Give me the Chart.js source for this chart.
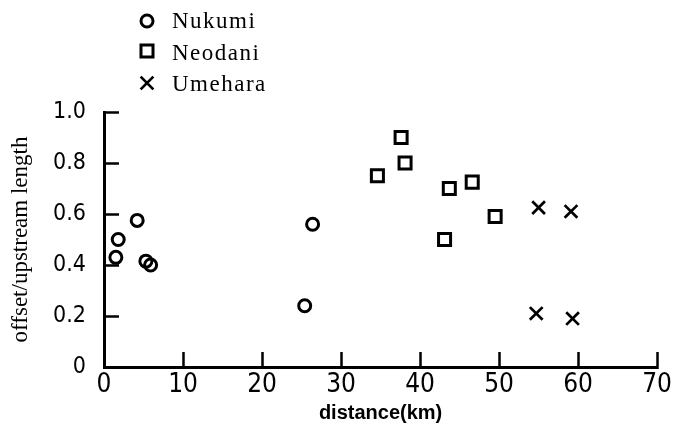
<!DOCTYPE html>
<html><head><meta charset="utf-8">
<script src="https://cdn.jsdelivr.net/npm/chart.js@4/dist/chart.umd.min.js"></script>
<style>html,body{margin:0;padding:0;background:#fff}#wrap{width:690px;height:430px;position:relative}</style>
</head><body><div id="wrap"><canvas id="c"></canvas></div>
<script>
const seriesNames = ['Nukumi', 'Neodani', 'Umehara'];
const nukumiX = [1.5, 1.8, 4.2, 5.3, 5.9, 25.4, 26.4];
const nukumiY = [0.43, 0.50, 0.575, 0.415, 0.40, 0.24, 0.56];
const neodaniX = [34.6, 37.6, 38.1, 43.1, 43.7, 46.6, 49.5];
const neodaniY = [0.75, 0.90, 0.80, 0.50, 0.70, 0.725, 0.59];
const umeharaX = [54.7, 55.0, 59.1, 59.3];
const umeharaY = [0.21, 0.625, 0.61, 0.19];
const xTicks = [0, 10, 20, 30, 40, 50, 60, 70];
const xTickLabels = ['0', '10', '20', '30', '40', '50', '60', '70'];
const yTicks = [0, 0.2, 0.4, 0.6, 0.8, 1.0];
const yTickLabels = ['0', '0.2', '0.4', '0.6', '0.8', '1.0'];
const xTitle = 'distance(km)';
const yTitle = 'offset/upstream length';

const narrow = "'Liberation Sans Narrow', 'DejaVu Sans Condensed', 'Roboto Condensed', 'Liberation Sans', sans-serif";
const serif = "'Liberation Serif', 'DejaVu Serif', serif";

function pts(xs, ys) { return xs.map((x, i) => ({ x: x, y: ys[i] })); }
function lookup(ticks, labels, v) {
  const i = ticks.findIndex(t => Math.abs(t - v) < 1e-6);
  return i >= 0 ? labels[i] : '';
}

const legendPlugin = {
  id: 'manualLegend',
  afterDraw(chart) {
    const ctx = chart.ctx;
    const markerY = [21, 51, 83];
    const textY = [28, 60, 91];
    ctx.save();
    chart.data.datasets.forEach((ds, i) => {
      ctx.fillStyle = 'rgba(0,0,0,0)';
      ctx.strokeStyle = '#000';
      ctx.lineWidth = ds.pointBorderWidth;
      Chart.helpers.drawPoint(ctx, { pointStyle: ds.pointStyle, radius: ds.pointRadius, borderWidth: ds.pointBorderWidth, rotation: 0 }, 147, markerY[i]);
      ctx.fillStyle = '#000';
      ctx.font = '23px ' + serif;
      try { ctx.letterSpacing = '1.5px'; } catch (e) {}
      ctx.textBaseline = 'alphabetic';
      ctx.textAlign = 'left';
      ctx.fillText(ds.label, 172, textY[i]);
      try { ctx.letterSpacing = '0px'; } catch (e) {}
    });
    ctx.restore();
  }
};

new Chart(document.getElementById('c'), {
  type: 'scatter',
  data: {
    datasets: [
      { label: seriesNames[0], data: pts(nukumiX, nukumiY), pointStyle: 'circle', pointRadius: 6, pointBorderWidth: 3, borderColor: '#000', pointBorderColor: '#000', backgroundColor: 'rgba(0,0,0,0)', pointBackgroundColor: 'rgba(0,0,0,0)' },
      { label: seriesNames[1], data: pts(neodaniX, neodaniY), pointStyle: 'rect', pointRadius: 8.5, pointBorderWidth: 3, borderColor: '#000', pointBorderColor: '#000', backgroundColor: 'rgba(0,0,0,0)', pointBackgroundColor: 'rgba(0,0,0,0)' },
      { label: seriesNames[2], data: pts(umeharaX, umeharaY), pointStyle: 'crossRot', pointRadius: 9, pointBorderWidth: 2.7, borderColor: '#000', pointBorderColor: '#000', backgroundColor: 'rgba(0,0,0,0)', pointBackgroundColor: 'rgba(0,0,0,0)' }
    ]
  },
  options: {
    responsive: true,
    maintainAspectRatio: false,
    animation: false,
    events: [],
    layout: { padding: { top: 112, right: 12, bottom: 0, left: 0 } },
    plugins: { legend: { display: false }, tooltip: { enabled: false } },
    scales: {
      x: {
        type: 'linear', min: 0, max: 70,
        afterFit(s) { s.height = 63; },
        afterBuildTicks(s) { s.ticks = xTicks.map(v => ({ value: v })); },
        grid: { drawOnChartArea: false, drawTicks: true, tickLength: -15, tickWidth: 2.5, tickColor: '#000' },
        border: { display: true, color: '#000', width: 3 },
        ticks: { padding: 18, color: '#000', maxRotation: 0, autoSkip: false, font: { family: narrow, size: 26 },
          callback(v) { return lookup(xTicks, xTickLabels, v); } },
        title: { display: true, text: xTitle, color: '#000', font: { family: "'Liberation Sans', Arial, sans-serif", size: 20, weight: 'bold' }, padding: { top: 0, bottom: 5 } }
      },
      y: {
        type: 'linear', min: 0, max: 1.0,
        afterFit(s) { s.width = 104; },
        afterBuildTicks(s) { s.ticks = yTicks.map(v => ({ value: v })); },
        grid: { drawOnChartArea: false, drawTicks: true, tickLength: -15, tickWidth: 2.5, tickColor: '#000' },
        border: { display: true, color: '#000', width: 3 },
        ticks: { padding: 33, color: '#000', autoSkip: false, font: { family: narrow, size: 23 },
          callback(v) { return lookup(yTicks, yTickLabels, v); } },
        title: { display: true, text: yTitle, color: '#000', font: { family: serif, size: 23 }, padding: { top: 7, bottom: 0 } }
      }
    }
  },
  plugins: [legendPlugin]
});
</script>
</body></html>
